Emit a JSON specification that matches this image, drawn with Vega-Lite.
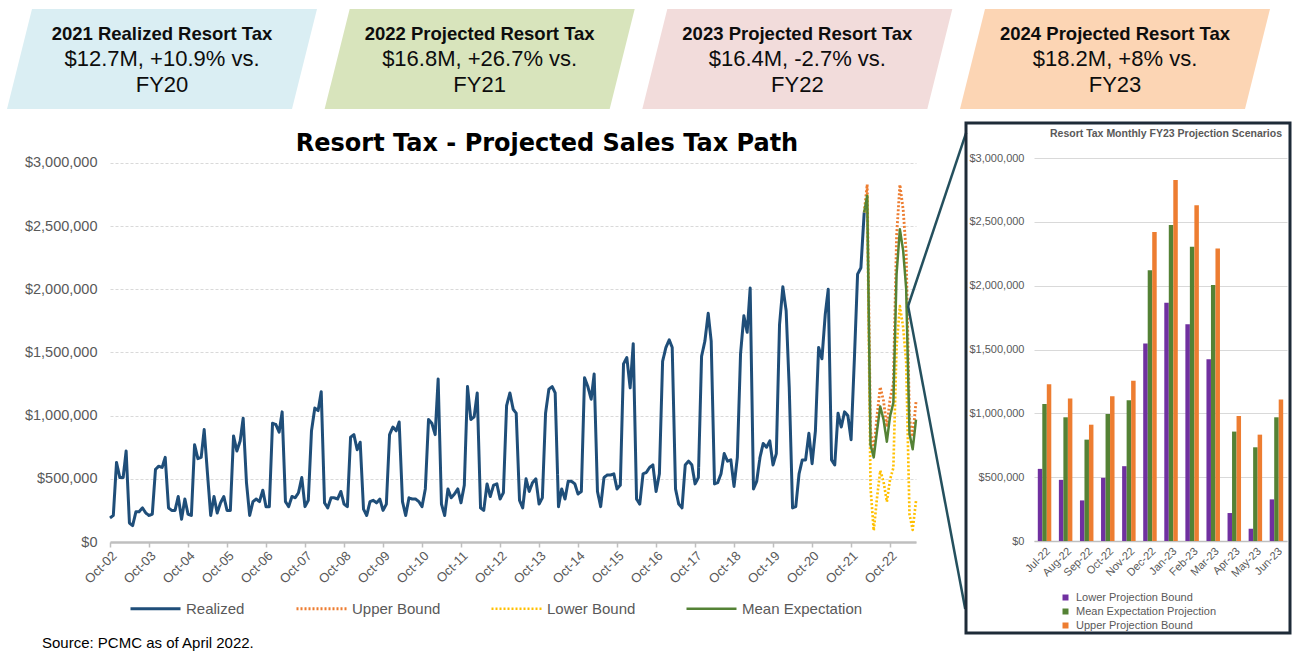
{
  "$schema": "https://vega.github.io/schema/vega-lite/v6.json",
  "background": "white",
  "padding": {"left": 7, "top": 8, "right": 2, "bottom": 2},
  "config": {
    "font": "Liberation Sans",
    "view": {"stroke": null},
    "axis": {"labelFont": "Liberation Sans"},
    "legend": {"labelFont": "Liberation Sans"},
    "title": {"font": "Liberation Sans"}
  },
  "title": {"text": "Source: PCMC as of April 2022.", "orient": "bottom", "anchor": "start", "fontSize": 15, "fontWeight": "normal", "color": "#000000", "offset": 1, "dx": 35, "baseline": "top"},
  "bounds": "flush",
  "spacing": 14,
  "resolve": {"scale": {"color": "independent", "strokeDash": "independent", "strokeWidth": "independent"}, "legend": {"color": "independent", "strokeDash": "independent"}},
  "vconcat": [
    {
      "width": 1057,
      "height": 100,
      "data": {"values": [
        {"b": "b1", "t": "2021 Realized Resort Tax", "l2": "$12.7M, +10.9% vs.", "l3": "FY20"},
        {"b": "b2", "t": "2022 Projected Resort Tax", "l2": "$16.8M, +26.7% vs.", "l3": "FY21"},
        {"b": "b3", "t": "2023 Projected Resort Tax", "l2": "$16.4M, -2.7% vs.", "l3": "FY22"},
        {"b": "b4", "t": "2024 Projected Resort Tax", "l2": "$18.2M, +8% vs.", "l3": "FY23"}
      ]},
      "encoding": {
        "x": {"field": "b", "type": "nominal", "scale": {"type": "point", "padding": 0.1637}, "axis": null}
      },
      "layer": [
        {
          "mark": {"type": "point", "filled": true, "opacity": 1, "size": 96100, "shape": "M -0.8387 -0.3226 L 1 -0.3226 L 0.8387 0.3226 L -1 0.3226 Z", "strokeWidth": 0},
          "encoding": {
            "color": {"field": "b", "type": "nominal", "scale": {"domain": ["b1", "b2", "b3", "b4"], "range": ["#daeef3", "#d8e4bc", "#f2dcdb", "#fcd5b4"]}, "legend": null}
          }
        },
        {
          "mark": {"type": "text", "fontSize": 18.5, "fontWeight": "bold", "color": "#0d0d0d", "dy": -25, "baseline": "middle"},
          "encoding": {"text": {"field": "t"}}
        },
        {
          "mark": {"type": "text", "fontSize": 22, "color": "#0d0d0d", "dy": 0, "baseline": "middle"},
          "encoding": {"text": {"field": "l2"}}
        },
        {
          "mark": {"type": "text", "fontSize": 22, "color": "#0d0d0d", "dy": 26, "baseline": "middle"},
          "encoding": {"text": {"field": "l3"}}
        }
      ]
    },
    {
      "bounds": "flush",
      "spacing": 50,
      "resolve": {"scale": {"color": "independent", "strokeDash": "independent", "strokeWidth": "independent"}, "legend": {"color": "independent", "strokeDash": "independent"}},
      "hconcat": [
        {
          "width": 806,
          "height": 419,
          "title": {"text": "Resort Tax - Projected Sales Tax Path", "font": "DejaVu Sans", "fontSize": 24, "fontWeight": "bold", "color": "#000000", "anchor": "middle", "frame": "group", "offset": -52, "baseline": "alphabetic", "dx": 34},
          "encoding": {
            "x": {"field": "d", "type": "temporal",
              "scale": {"type": "utc", "domain": [{"year": 2002, "month": 10, "date": 1, "utc": true}, {"year": 2023, "month": 6, "date": 1, "utc": true}], "nice": false},
              "axis": {"title": null, "format": "%b-%y", "labelAngle": -45, "labelFontSize": 13, "labelColor": "#595959", "grid": false, "domainColor": "#bfbfbf", "domainWidth": 2.5, "tickColor": "#bfbfbf", "tickSize": 5, "tickWidth": 1.5, "labelPadding": 2,
                "values": [
                  {"year": 2002, "month": 10, "date": 1, "utc": true},
                  {"year": 2003, "month": 10, "date": 1, "utc": true},
                  {"year": 2004, "month": 10, "date": 1, "utc": true},
                  {"year": 2005, "month": 10, "date": 1, "utc": true},
                  {"year": 2006, "month": 10, "date": 1, "utc": true},
                  {"year": 2007, "month": 10, "date": 1, "utc": true},
                  {"year": 2008, "month": 10, "date": 1, "utc": true},
                  {"year": 2009, "month": 10, "date": 1, "utc": true},
                  {"year": 2010, "month": 10, "date": 1, "utc": true},
                  {"year": 2011, "month": 10, "date": 1, "utc": true},
                  {"year": 2012, "month": 10, "date": 1, "utc": true},
                  {"year": 2013, "month": 10, "date": 1, "utc": true},
                  {"year": 2014, "month": 10, "date": 1, "utc": true},
                  {"year": 2015, "month": 10, "date": 1, "utc": true},
                  {"year": 2016, "month": 10, "date": 1, "utc": true},
                  {"year": 2017, "month": 10, "date": 1, "utc": true},
                  {"year": 2018, "month": 10, "date": 1, "utc": true},
                  {"year": 2019, "month": 10, "date": 1, "utc": true},
                  {"year": 2020, "month": 10, "date": 1, "utc": true},
                  {"year": 2021, "month": 10, "date": 1, "utc": true},
                  {"year": 2022, "month": 10, "date": 1, "utc": true}
                ]}},
            "y": {"field": "v", "type": "quantitative",
              "scale": {"domain": [0, 3316600], "nice": false, "zero": false},
              "axis": {"title": null, "values": [0, 500000, 1000000, 1500000, 2000000, 2500000, 3000000], "format": "$,.0f", "domain": false, "ticks": false, "labelPadding": 13, "labelFontSize": 14.5, "labelColor": "#595959", "grid": true, "gridColor": "#d9d9d9", "gridDash": [3, 2], "gridWidth": 1}}
          },
          "layer": [
            {
              "data": {"values": [
                {"d":"2002-10-01","s":"Realized","v":190000},{"d":"2002-11-01","s":"Realized","v":210000},{"d":"2002-12-01","s":"Realized","v":630000},
                {"d":"2003-01-01","s":"Realized","v":510000},{"d":"2003-02-01","s":"Realized","v":510000},{"d":"2003-03-01","s":"Realized","v":720000},{"d":"2003-04-01","s":"Realized","v":150000},{"d":"2003-05-01","s":"Realized","v":130000},{"d":"2003-06-01","s":"Realized","v":240000},{"d":"2003-07-01","s":"Realized","v":240000},{"d":"2003-08-01","s":"Realized","v":270000},{"d":"2003-09-01","s":"Realized","v":230000},{"d":"2003-10-01","s":"Realized","v":210000},{"d":"2003-11-01","s":"Realized","v":220000},{"d":"2003-12-01","s":"Realized","v":575000},
                {"d":"2004-01-01","s":"Realized","v":600000},{"d":"2004-02-01","s":"Realized","v":590000},{"d":"2004-03-01","s":"Realized","v":670000},{"d":"2004-04-01","s":"Realized","v":270000},{"d":"2004-05-01","s":"Realized","v":250000},{"d":"2004-06-01","s":"Realized","v":250000},{"d":"2004-07-01","s":"Realized","v":360000},{"d":"2004-08-01","s":"Realized","v":180000},{"d":"2004-09-01","s":"Realized","v":340000},{"d":"2004-10-01","s":"Realized","v":220000},{"d":"2004-11-01","s":"Realized","v":210000},{"d":"2004-12-01","s":"Realized","v":770000},
                {"d":"2005-01-01","s":"Realized","v":660000},{"d":"2005-02-01","s":"Realized","v":670000},{"d":"2005-03-01","s":"Realized","v":890000},{"d":"2005-04-01","s":"Realized","v":540000},{"d":"2005-05-01","s":"Realized","v":210000},{"d":"2005-06-01","s":"Realized","v":360000},{"d":"2005-07-01","s":"Realized","v":230000},{"d":"2005-08-01","s":"Realized","v":310000},{"d":"2005-09-01","s":"Realized","v":360000},{"d":"2005-10-01","s":"Realized","v":250000},{"d":"2005-11-01","s":"Realized","v":250000},{"d":"2005-12-01","s":"Realized","v":840000},
                {"d":"2006-01-01","s":"Realized","v":720000},{"d":"2006-02-01","s":"Realized","v":800000},{"d":"2006-03-01","s":"Realized","v":980000},{"d":"2006-04-01","s":"Realized","v":470000},{"d":"2006-05-01","s":"Realized","v":210000},{"d":"2006-06-01","s":"Realized","v":320000},{"d":"2006-07-01","s":"Realized","v":340000},{"d":"2006-08-01","s":"Realized","v":320000},{"d":"2006-09-01","s":"Realized","v":410000},{"d":"2006-10-01","s":"Realized","v":280000},{"d":"2006-11-01","s":"Realized","v":280000},{"d":"2006-12-01","s":"Realized","v":940000},
                {"d":"2007-01-01","s":"Realized","v":930000},{"d":"2007-02-01","s":"Realized","v":870000},{"d":"2007-03-01","s":"Realized","v":1030000},{"d":"2007-04-01","s":"Realized","v":320000},{"d":"2007-05-01","s":"Realized","v":280000},{"d":"2007-06-01","s":"Realized","v":360000},{"d":"2007-07-01","s":"Realized","v":350000},{"d":"2007-08-01","s":"Realized","v":390000},{"d":"2007-09-01","s":"Realized","v":510000},{"d":"2007-10-01","s":"Realized","v":280000},{"d":"2007-11-01","s":"Realized","v":330000},{"d":"2007-12-01","s":"Realized","v":880000},
                {"d":"2008-01-01","s":"Realized","v":1060000},{"d":"2008-02-01","s":"Realized","v":1040000},{"d":"2008-03-01","s":"Realized","v":1190000},{"d":"2008-04-01","s":"Realized","v":310000},{"d":"2008-05-01","s":"Realized","v":270000},{"d":"2008-06-01","s":"Realized","v":350000},{"d":"2008-07-01","s":"Realized","v":350000},{"d":"2008-08-01","s":"Realized","v":340000},{"d":"2008-09-01","s":"Realized","v":400000},{"d":"2008-10-01","s":"Realized","v":300000},{"d":"2008-11-01","s":"Realized","v":280000},{"d":"2008-12-01","s":"Realized","v":830000},
                {"d":"2009-01-01","s":"Realized","v":850000},{"d":"2009-02-01","s":"Realized","v":730000},{"d":"2009-03-01","s":"Realized","v":790000},{"d":"2009-04-01","s":"Realized","v":260000},{"d":"2009-05-01","s":"Realized","v":210000},{"d":"2009-06-01","s":"Realized","v":320000},{"d":"2009-07-01","s":"Realized","v":330000},{"d":"2009-08-01","s":"Realized","v":310000},{"d":"2009-09-01","s":"Realized","v":340000},{"d":"2009-10-01","s":"Realized","v":250000},{"d":"2009-11-01","s":"Realized","v":300000},{"d":"2009-12-01","s":"Realized","v":850000},
                {"d":"2010-01-01","s":"Realized","v":910000},{"d":"2010-02-01","s":"Realized","v":880000},{"d":"2010-03-01","s":"Realized","v":950000},{"d":"2010-04-01","s":"Realized","v":320000},{"d":"2010-05-01","s":"Realized","v":210000},{"d":"2010-06-01","s":"Realized","v":350000},{"d":"2010-07-01","s":"Realized","v":340000},{"d":"2010-08-01","s":"Realized","v":340000},{"d":"2010-09-01","s":"Realized","v":320000},{"d":"2010-10-01","s":"Realized","v":280000},{"d":"2010-11-01","s":"Realized","v":420000},{"d":"2010-12-01","s":"Realized","v":970000},
                {"d":"2011-01-01","s":"Realized","v":940000},{"d":"2011-02-01","s":"Realized","v":850000},{"d":"2011-03-01","s":"Realized","v":1290000},{"d":"2011-04-01","s":"Realized","v":300000},{"d":"2011-05-01","s":"Realized","v":210000},{"d":"2011-06-01","s":"Realized","v":420000},{"d":"2011-07-01","s":"Realized","v":350000},{"d":"2011-08-01","s":"Realized","v":380000},{"d":"2011-09-01","s":"Realized","v":420000},{"d":"2011-10-01","s":"Realized","v":310000},{"d":"2011-11-01","s":"Realized","v":450000},{"d":"2011-12-01","s":"Realized","v":1230000},
                {"d":"2012-01-01","s":"Realized","v":970000},{"d":"2012-02-01","s":"Realized","v":990000},{"d":"2012-03-01","s":"Realized","v":1180000},{"d":"2012-04-01","s":"Realized","v":270000},{"d":"2012-05-01","s":"Realized","v":250000},{"d":"2012-06-01","s":"Realized","v":460000},{"d":"2012-07-01","s":"Realized","v":360000},{"d":"2012-08-01","s":"Realized","v":450000},{"d":"2012-09-01","s":"Realized","v":460000},{"d":"2012-10-01","s":"Realized","v":340000},{"d":"2012-11-01","s":"Realized","v":390000},{"d":"2012-12-01","s":"Realized","v":1080000},
                {"d":"2013-01-01","s":"Realized","v":1180000},{"d":"2013-02-01","s":"Realized","v":1050000},{"d":"2013-03-01","s":"Realized","v":1020000},{"d":"2013-04-01","s":"Realized","v":330000},{"d":"2013-05-01","s":"Realized","v":270000},{"d":"2013-06-01","s":"Realized","v":500000},{"d":"2013-07-01","s":"Realized","v":400000},{"d":"2013-08-01","s":"Realized","v":470000},{"d":"2013-09-01","s":"Realized","v":500000},{"d":"2013-10-01","s":"Realized","v":300000},{"d":"2013-11-01","s":"Realized","v":350000},{"d":"2013-12-01","s":"Realized","v":1020000},
                {"d":"2014-01-01","s":"Realized","v":1210000},{"d":"2014-02-01","s":"Realized","v":1230000},{"d":"2014-03-01","s":"Realized","v":1180000},{"d":"2014-04-01","s":"Realized","v":280000},{"d":"2014-05-01","s":"Realized","v":420000},{"d":"2014-06-01","s":"Realized","v":340000},{"d":"2014-07-01","s":"Realized","v":480000},{"d":"2014-08-01","s":"Realized","v":480000},{"d":"2014-09-01","s":"Realized","v":460000},{"d":"2014-10-01","s":"Realized","v":380000},{"d":"2014-11-01","s":"Realized","v":400000},{"d":"2014-12-01","s":"Realized","v":1300000},
                {"d":"2015-01-01","s":"Realized","v":1230000},{"d":"2015-02-01","s":"Realized","v":1130000},{"d":"2015-03-01","s":"Realized","v":1330000},{"d":"2015-04-01","s":"Realized","v":400000},{"d":"2015-05-01","s":"Realized","v":280000},{"d":"2015-06-01","s":"Realized","v":510000},{"d":"2015-07-01","s":"Realized","v":530000},{"d":"2015-08-01","s":"Realized","v":530000},{"d":"2015-09-01","s":"Realized","v":540000},{"d":"2015-10-01","s":"Realized","v":420000},{"d":"2015-11-01","s":"Realized","v":450000},{"d":"2015-12-01","s":"Realized","v":1410000},
                {"d":"2016-01-01","s":"Realized","v":1460000},{"d":"2016-02-01","s":"Realized","v":1220000},{"d":"2016-03-01","s":"Realized","v":1570000},{"d":"2016-04-01","s":"Realized","v":340000},{"d":"2016-05-01","s":"Realized","v":300000},{"d":"2016-06-01","s":"Realized","v":540000},{"d":"2016-07-01","s":"Realized","v":550000},{"d":"2016-08-01","s":"Realized","v":590000},{"d":"2016-09-01","s":"Realized","v":610000},{"d":"2016-10-01","s":"Realized","v":400000},{"d":"2016-11-01","s":"Realized","v":540000},{"d":"2016-12-01","s":"Realized","v":1430000},
                {"d":"2017-01-01","s":"Realized","v":1540000},{"d":"2017-02-01","s":"Realized","v":1600000},{"d":"2017-03-01","s":"Realized","v":1540000},{"d":"2017-04-01","s":"Realized","v":420000},{"d":"2017-05-01","s":"Realized","v":300000},{"d":"2017-06-01","s":"Realized","v":270000},{"d":"2017-07-01","s":"Realized","v":610000},{"d":"2017-08-01","s":"Realized","v":640000},{"d":"2017-09-01","s":"Realized","v":610000},{"d":"2017-10-01","s":"Realized","v":460000},{"d":"2017-11-01","s":"Realized","v":510000},{"d":"2017-12-01","s":"Realized","v":1470000},
                {"d":"2018-01-01","s":"Realized","v":1590000},{"d":"2018-02-01","s":"Realized","v":1810000},{"d":"2018-03-01","s":"Realized","v":1590000},{"d":"2018-04-01","s":"Realized","v":460000},{"d":"2018-05-01","s":"Realized","v":470000},{"d":"2018-06-01","s":"Realized","v":540000},{"d":"2018-07-01","s":"Realized","v":700000},{"d":"2018-08-01","s":"Realized","v":640000},{"d":"2018-09-01","s":"Realized","v":650000},{"d":"2018-10-01","s":"Realized","v":440000},{"d":"2018-11-01","s":"Realized","v":670000},{"d":"2018-12-01","s":"Realized","v":1490000},
                {"d":"2019-01-01","s":"Realized","v":1790000},{"d":"2019-02-01","s":"Realized","v":1660000},{"d":"2019-03-01","s":"Realized","v":2010000},{"d":"2019-04-01","s":"Realized","v":420000},{"d":"2019-05-01","s":"Realized","v":480000},{"d":"2019-06-01","s":"Realized","v":670000},{"d":"2019-07-01","s":"Realized","v":780000},{"d":"2019-08-01","s":"Realized","v":750000},{"d":"2019-09-01","s":"Realized","v":800000},{"d":"2019-10-01","s":"Realized","v":610000},{"d":"2019-11-01","s":"Realized","v":700000},{"d":"2019-12-01","s":"Realized","v":1720000},
                {"d":"2020-01-01","s":"Realized","v":2020000},{"d":"2020-02-01","s":"Realized","v":1830000},{"d":"2020-03-01","s":"Realized","v":1220000},{"d":"2020-04-01","s":"Realized","v":270000},{"d":"2020-05-01","s":"Realized","v":280000},{"d":"2020-06-01","s":"Realized","v":540000},{"d":"2020-07-01","s":"Realized","v":650000},{"d":"2020-08-01","s":"Realized","v":650000},{"d":"2020-09-01","s":"Realized","v":860000},{"d":"2020-10-01","s":"Realized","v":620000},{"d":"2020-11-01","s":"Realized","v":880000},{"d":"2020-12-01","s":"Realized","v":1540000},
                {"d":"2021-01-01","s":"Realized","v":1450000},{"d":"2021-02-01","s":"Realized","v":1800000},{"d":"2021-03-01","s":"Realized","v":2000000},{"d":"2021-04-01","s":"Realized","v":650000},{"d":"2021-05-01","s":"Realized","v":610000},{"d":"2021-06-01","s":"Realized","v":1020000},{"d":"2021-07-01","s":"Realized","v":910000},{"d":"2021-08-01","s":"Realized","v":1030000},{"d":"2021-09-01","s":"Realized","v":1000000},{"d":"2021-10-01","s":"Realized","v":810000},{"d":"2021-11-01","s":"Realized","v":1450000},{"d":"2021-12-01","s":"Realized","v":2120000},
                {"d":"2022-01-01","s":"Realized","v":2170000},{"d":"2022-02-01","s":"Realized","v":2610000},
                {"d":"2022-02-01","s":"Upper Bound","v":2610000},{"d":"2022-03-01","s":"Upper Bound","v":2830000},{"d":"2022-04-01","s":"Upper Bound","v":880000},{"d":"2022-05-01","s":"Upper Bound","v":720000},{"d":"2022-06-01","s":"Upper Bound","v":1000000},{"d":"2022-07-01","s":"Upper Bound","v":1227000},{"d":"2022-08-01","s":"Upper Bound","v":1117000},{"d":"2022-09-01","s":"Upper Bound","v":911000},{"d":"2022-10-01","s":"Upper Bound","v":1133000},{"d":"2022-11-01","s":"Upper Bound","v":1255000},{"d":"2022-12-01","s":"Upper Bound","v":2420000},{"d":"2023-01-01","s":"Upper Bound","v":2828000},{"d":"2023-02-01","s":"Upper Bound","v":2629000},{"d":"2023-03-01","s":"Upper Bound","v":2292000},{"d":"2023-04-01","s":"Upper Bound","v":979000},{"d":"2023-05-01","s":"Upper Bound","v":833000},{"d":"2023-06-01","s":"Upper Bound","v":1109000},
                {"d":"2022-02-01","s":"Lower Bound","v":2610000},{"d":"2022-03-01","s":"Lower Bound","v":2740000},{"d":"2022-04-01","s":"Lower Bound","v":430000},{"d":"2022-05-01","s":"Lower Bound","v":90000},{"d":"2022-06-01","s":"Lower Bound","v":350000},{"d":"2022-07-01","s":"Lower Bound","v":565000},{"d":"2022-08-01","s":"Lower Bound","v":479000},{"d":"2022-09-01","s":"Lower Bound","v":318000},{"d":"2022-10-01","s":"Lower Bound","v":495000},{"d":"2022-11-01","s":"Lower Bound","v":586000},{"d":"2022-12-01","s":"Lower Bound","v":1547000},{"d":"2023-01-01","s":"Lower Bound","v":1867000},{"d":"2023-02-01","s":"Lower Bound","v":1697000},{"d":"2023-03-01","s":"Lower Bound","v":1424000},{"d":"2023-04-01","s":"Lower Bound","v":219000},{"d":"2023-05-01","s":"Lower Bound","v":96000},{"d":"2023-06-01","s":"Lower Bound","v":326000},
                {"d":"2022-02-01","s":"Mean Expectation","v":2610000},{"d":"2022-03-01","s":"Mean Expectation","v":2740000},{"d":"2022-04-01","s":"Mean Expectation","v":770000},{"d":"2022-05-01","s":"Mean Expectation","v":670000},{"d":"2022-06-01","s":"Mean Expectation","v":880000},{"d":"2022-07-01","s":"Mean Expectation","v":1073000},{"d":"2022-08-01","s":"Mean Expectation","v":969000},{"d":"2022-09-01","s":"Mean Expectation","v":794000},{"d":"2022-10-01","s":"Mean Expectation","v":995000},{"d":"2022-11-01","s":"Mean Expectation","v":1102000},{"d":"2022-12-01","s":"Mean Expectation","v":2120000},{"d":"2023-01-01","s":"Mean Expectation","v":2475000},{"d":"2023-02-01","s":"Mean Expectation","v":2305000},{"d":"2023-03-01","s":"Mean Expectation","v":2005000},{"d":"2023-04-01","s":"Mean Expectation","v":857000},{"d":"2023-05-01","s":"Mean Expectation","v":734000},{"d":"2023-06-01","s":"Mean Expectation","v":969000}
              ]},
              "mark": {"type": "line", "strokeJoin": "round"},
              "encoding": {
                "color": {"field": "s", "type": "nominal",
                  "scale": {"domain": ["Realized", "Upper Bound", "Lower Bound", "Mean Expectation"], "range": ["#1f4e79", "#ed7d31", "#ffc000", "#548235"]},
                  "legend": {"orient": "none", "legendX": 19, "legendY": 459, "direction": "horizontal", "title": null, "symbolType": "stroke", "symbolSize": 2500, "symbolStrokeWidth": 3, "labelFontSize": 15, "labelColor": "#595959", "columnPadding": 45, "labelOffset": 4}},
                "strokeDash": {"field": "s", "type": "nominal",
                  "scale": {"domain": ["Realized", "Upper Bound", "Lower Bound", "Mean Expectation"], "range": [[1, 0], [2, 2], [2, 2], [1, 0]]},
                  "legend": {"orient": "none", "legendX": 19, "legendY": 459, "direction": "horizontal", "title": null, "symbolType": "stroke", "symbolSize": 2500, "symbolStrokeWidth": 3, "labelFontSize": 15, "labelColor": "#595959", "columnPadding": 45, "labelOffset": 4}},
                "strokeWidth": {"field": "s", "type": "nominal",
                  "scale": {"domain": ["Realized", "Upper Bound", "Lower Bound", "Mean Expectation"], "range": [3, 2.5, 2.5, 3.5]},
                  "legend": null}
              }
            },
            {
              "data": {"values": [
                {"d": "2023-03-19", "v": 1868000, "d2": "2024-09-13", "v2": 3240000},
                {"d": "2023-03-19", "v": 1868000, "d2": "2024-09-04", "v2": -530000}
              ]},
              "mark": {"type": "rule", "color": "#24505e", "strokeWidth": 2.5},
              "encoding": {
                "x2": {"field": "d2"},
                "y2": {"field": "v2"}
              }
            }
          ]
        },
        {
          "width": 324,
          "height": 510,
          "view": {"stroke": "#1e2b38", "strokeWidth": 3},
          "title": {"text": "Resort Tax Monthly FY23 Projection Scenarios", "fontSize": 10.5, "fontWeight": "bold", "color": "#595959", "anchor": "end", "frame": "group", "offset": -24, "dx": -8, "baseline": "alphabetic"},
          "data": {"values": [
            {"m":"Jul-22","k":"Lower Projection Bound","v":565000},{"m":"Jul-22","k":"Mean Expectation Projection","v":1073000},{"m":"Jul-22","k":"Upper Projection Bound","v":1227000},
            {"m":"Aug-22","k":"Lower Projection Bound","v":479000},{"m":"Aug-22","k":"Mean Expectation Projection","v":969000},{"m":"Aug-22","k":"Upper Projection Bound","v":1117000},
            {"m":"Sep-22","k":"Lower Projection Bound","v":318000},{"m":"Sep-22","k":"Mean Expectation Projection","v":794000},{"m":"Sep-22","k":"Upper Projection Bound","v":911000},
            {"m":"Oct-22","k":"Lower Projection Bound","v":495000},{"m":"Oct-22","k":"Mean Expectation Projection","v":995000},{"m":"Oct-22","k":"Upper Projection Bound","v":1133000},
            {"m":"Nov-22","k":"Lower Projection Bound","v":586000},{"m":"Nov-22","k":"Mean Expectation Projection","v":1102000},{"m":"Nov-22","k":"Upper Projection Bound","v":1255000},
            {"m":"Dec-22","k":"Lower Projection Bound","v":1547000},{"m":"Dec-22","k":"Mean Expectation Projection","v":2120000},{"m":"Dec-22","k":"Upper Projection Bound","v":2420000},
            {"m":"Jan-23","k":"Lower Projection Bound","v":1867000},{"m":"Jan-23","k":"Mean Expectation Projection","v":2475000},{"m":"Jan-23","k":"Upper Projection Bound","v":2828000},
            {"m":"Feb-23","k":"Lower Projection Bound","v":1697000},{"m":"Feb-23","k":"Mean Expectation Projection","v":2305000},{"m":"Feb-23","k":"Upper Projection Bound","v":2629000},
            {"m":"Mar-23","k":"Lower Projection Bound","v":1424000},{"m":"Mar-23","k":"Mean Expectation Projection","v":2005000},{"m":"Mar-23","k":"Upper Projection Bound","v":2292000},
            {"m":"Apr-23","k":"Lower Projection Bound","v":219000},{"m":"Apr-23","k":"Mean Expectation Projection","v":857000},{"m":"Apr-23","k":"Upper Projection Bound","v":979000},
            {"m":"May-23","k":"Lower Projection Bound","v":96000},{"m":"May-23","k":"Mean Expectation Projection","v":734000},{"m":"May-23","k":"Upper Projection Bound","v":833000},
            {"m":"Jun-23","k":"Lower Projection Bound","v":326000},{"m":"Jun-23","k":"Mean Expectation Projection","v":969000},{"m":"Jun-23","k":"Upper Projection Bound","v":1109000}
          ]},
          "mark": {"type": "bar"},
          "encoding": {
            "x": {"field": "m", "type": "ordinal",
              "sort": ["Jul-22", "Aug-22", "Sep-22", "Oct-22", "Nov-22", "Dec-22", "Jan-23", "Feb-23", "Mar-23", "Apr-23", "May-23", "Jun-23"],
              "scale": {"range": [68, 321], "paddingInner": 0.36, "paddingOuter": 0.18},
              "axis": {"title": null, "offset": -92, "labelAngle": -45, "labelFontSize": 11, "labelColor": "#595959", "domainColor": "#bfbfbf", "domainWidth": 1.5, "ticks": false, "labelPadding": 4}},
            "xOffset": {"field": "k", "type": "nominal", "sort": ["Lower Projection Bound", "Mean Expectation Projection", "Upper Projection Bound"]},
            "y": {"field": "v", "type": "quantitative",
              "scale": {"domain": [0, 3000000], "range": [418, 35], "nice": false},
              "axis": {"title": null, "values": [0, 500000, 1000000, 1500000, 2000000, 2500000, 3000000], "format": "$,.0f", "domain": false, "ticks": false, "offset": -68, "labelPadding": 10, "labelFontSize": 11, "labelColor": "#595959", "grid": true, "gridColor": "#d9d9d9", "gridWidth": 1}},
            "color": {"field": "k", "type": "nominal",
              "scale": {"domain": ["Lower Projection Bound", "Mean Expectation Projection", "Upper Projection Bound"], "range": ["#7030a0", "#548235", "#ed7d31"]},
              "legend": {"orient": "none", "legendX": 94, "legendY": 469, "title": null, "symbolType": "square", "symbolSize": 36, "labelFontSize": 11, "labelColor": "#595959", "rowPadding": 2, "labelOffset": 5, "direction": "vertical"}}
          }
        }
      ]
    }
  ]
}
